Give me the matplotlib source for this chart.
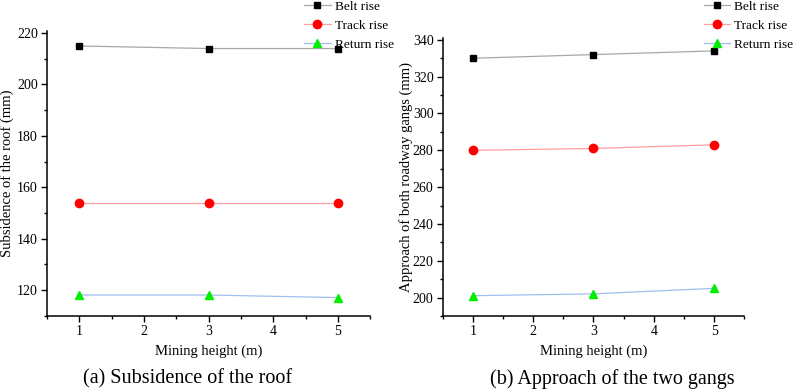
import numpy as np
import matplotlib.pyplot as plt
from matplotlib.ticker import MultipleLocator

plt.rcParams['font.family'] = ['Liberation Serif', 'DejaVu Serif']

height = [1, 3, 5]
names = ['Belt rise', 'Track rise', 'Return rise']

roof_belt = [215, 214, 214]
roof_track = [154, 154, 154]
roof_return = [118, 118, 117]

gang_belt = [330, 332, 334]
gang_track = [280, 281, 283]
gang_return = [201, 202, 205]

line_cols = ['#a8a8a8', '#ff9f9f', '#9fbfef']
mark_cols = ['black', 'red', '#00ee00']
markers = ['s', 'o', '^']
msizes = [5, 6, 6]

fig = plt.figure(figsize=(7.96, 3.92), dpi=100)
ax1 = fig.add_axes([0.059, 0.195, 0.406, 0.727])
ax2 = fig.add_axes([0.556, 0.194, 0.379, 0.709])


def draw(ax, series, ylim, ylabel, caption, leg_x, cap_x, lab_x):
    for s, lc, mc, m, ms, nm in zip(series, line_cols, mark_cols, markers, msizes, names):
        ax.plot(height, s, color=lc, lw=0.9, marker=m, ms=ms, mfc=mc, mec=mc, label=nm)
    ax.set_xlim(0.5, 5.5)
    ax.set_ylim(*ylim)
    ax.xaxis.set_major_locator(MultipleLocator(1))
    ax.xaxis.set_minor_locator(MultipleLocator(0.5))
    ax.yaxis.set_major_locator(MultipleLocator(20))
    ax.yaxis.set_minor_locator(MultipleLocator(10))
    for sp in ['top', 'right']:
        ax.spines[sp].set_visible(False)
    for sp in ['left', 'bottom']:
        ax.spines[sp].set_linewidth(1.1)
    ax.tick_params(which='major', direction='out', length=4, width=1, labelsize=10, pad=2.5)
    ax.tick_params(which='minor', direction='out', length=2.5, width=1)
    ax.set_ylabel(ylabel, fontsize=10.5)
    ax.yaxis.set_label_coords(lab_x, 0.5)
    ax.set_xlabel('Mining height (m)', fontsize=10.5, labelpad=5)
    fig.text(cap_x, 1 - 379 / 392, caption, ha='center', va='center', fontsize=14.5)
    fig.legend(*ax.get_legend_handles_labels(), loc='upper left', bbox_to_anchor=(leg_x, 1.03),
               frameon=False, fontsize=9.6, handlelength=2.0, handletextpad=0.3, labelspacing=0.5)


draw(ax1, [roof_belt, roof_track, roof_return], (110, 221),
     'Subsidence of the roof (mm)', '(a) Subsidence of the roof', 0.367, 188 / 796, -0.102)
draw(ax2, [gang_belt, gang_track, gang_return], (190, 341),
     'Approach of both roadway gangs (mm)', '(b) Approach of the two gangs', 0.869, 612 / 796, -0.099)

fig.savefig('out.png', dpi=100)
